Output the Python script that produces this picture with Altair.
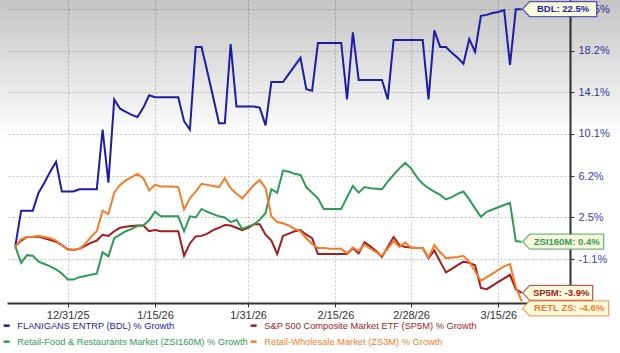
import altair as alt
import pandas as pd

# ---------------- data ----------------
start_date = "2025-12-22"
n_days = 88

series_names = [
    "FLANIGANS ENTRP (BDL) % Growth",
    "S&P 500 Composite Market ETF (SP5M) % Growth",
    "Retail-Food & Restaurants Market (ZSI160M) % Growth",
    "Retail-Wholesale Market (ZS3M) % Growth",
]
short_names = ["BDL", "SP5M", "ZSI160M", "RETL ZS"]

bdl_growth = [
    0.0, 3.1, 3.1, 3.1, 4.7, 5.6, 6.6, 7.5, 4.8, 4.8,
    4.8, 5.0, 5.0, 5.0, 5.0, 10.5, 5.6, 13.4, 12.5, 12.2,
    11.9, 11.7, 12.6, 13.8, 13.6, 13.6, 13.6, 13.6, 13.6, 11.3,
    10.5, 18.6, 18.6, 16.1, 13.6, 11.1, 11.1, 18.9, 12.7, 12.7,
    12.7, 12.7, 12.6, 10.9, 15.1, 15.1, 15.1, 15.9, 16.7, 17.5,
    14.4, 14.25, 19.0, 19.0, 19.0, 19.0, 19.0, 13.4, 20.1, 15.3,
    15.3, 15.3, 15.3, 15.3, 13.4, 19.3, 19.3, 19.3, 19.3, 19.3,
    19.3, 13.4, 20.3, 18.6, 18.6, 18.0, 17.5, 16.9, 19.4, 18.1,
    21.8, 21.9, 22.1, 22.2, 22.4, 16.8, 22.5, 22.5,
]
sp5m_growth = [
    0.0, 0.5, 0.8, 0.8, 0.85, 0.7, 0.55, 0.4, 0.1, -0.25,
    -0.3, -0.2, 0.05, 0.3, 0.5, 1.0, 0.9, 1.3, 1.6, 1.7,
    1.75, 1.8, 1.8, 1.3, 1.4, 1.3, 1.3, 1.3, 1.3, -0.8,
    0.25, 0.85, 0.9, 1.1, 1.4, 1.6, 1.85, 1.8, 1.6, 1.4,
    1.6, 1.9, 1.9, 1.0, 0.5, -0.65, 0.9, 1.1, 1.3, 1.4,
    1.0, 0.7, -0.65, -0.65, -0.65, -0.65, -0.65, -0.65, -0.15, -0.6,
    0.35, 0.0, -0.4, -0.9, -0.05, 0.8, 0.1, -0.05, -0.1, -0.15,
    -0.15, -1.0, -0.35, -1.3, -2.2, -1.9, -1.6, -1.3, -1.4, -1.6,
    -3.5, -3.6, -3.3, -3.0, -2.7, -2.4, -3.6, -3.9,
]
zsi160m_growth = [
    0.0, -1.4, -0.75, -0.8, -1.3, -1.5, -1.7, -1.95, -2.3, -2.8,
    -2.8, -2.6, -2.5, -2.4, -2.3, -0.5, -0.85, 0.7, 1.0, 1.3,
    1.5, 1.75, 1.8, 2.25, 3.0, 2.6, 2.6, 2.6, 2.6, 1.3,
    2.6, 2.5, 3.25, 3.0, 2.8, 2.6, 2.5, 2.1, 2.3, 1.5,
    1.7, 1.9, 2.3, 2.9, 5.0, 4.7, 6.7, 6.6, 6.4, 6.3,
    5.2, 4.7, 4.2, 3.25, 3.25, 3.25, 3.25, 4.3, 5.3, 4.7,
    5.2, 5.1, 5.05, 5.0, 5.7, 6.3, 6.9, 7.4, 6.9, 6.1,
    5.5, 5.1, 4.8, 4.5, 4.1, 4.3, 4.6, 4.8, 4.1, 3.3,
    2.55, 3.0, 3.2, 3.4, 3.6, 3.8, 0.45, 0.4,
]
zs3m_growth = [
    0.0, 0.6, 0.8, 0.8, 0.9, 0.8, 0.7, 0.5, 0.1, -0.3,
    -0.3, -0.2, 0.2, 0.8, 1.3, 3.1, 2.8, 4.7, 5.4, 5.8,
    6.1, 6.4, 6.0, 4.9, 5.4, 5.25, 5.25, 5.25, 5.2, 3.2,
    4.2, 4.8, 5.5, 5.4, 5.3, 5.2, 6.0, 5.1, 4.6, 4.2,
    4.8, 5.4, 5.85, 5.1, 2.6, 2.1, 2.0, 1.8, 1.5, 1.3,
    0.7, 0.2, -0.15, -0.15, -0.2, -0.2, -0.2, -0.6, -0.1, -0.4,
    0.15, -0.2, -0.5, -0.8, -0.2, 0.45, -0.05, 0.35, -0.15, -0.15,
    -0.15, -0.95, 0.1, -0.5, -1.0, -0.95, -0.9, -0.8, -1.3, -2.1,
    -2.9, -2.6, -2.3, -2.0, -1.7, -1.5, -3.4, -4.6,
]

y_tick_labels = [22.5, 18.2, 14.1, 10.1, 6.2, 2.5, -1.1]
x_tick_dates = ["2025-12-31", "2026-01-15", "2026-01-31", "2026-02-15", "2026-02-28", "2026-03-15"]

# ---------------- styles ----------------
line_colors = ["#1c1ca8", "#a31d1d", "#2f9b55", "#f97b28"]
box_widths = [74, 70, 81, 86]
box_shift = [0, 0, 0, 7]
FONT = "Liberation Sans"
W, H = 563, 303

# ---------------- build tables ----------------
dates = list(pd.date_range(start_date, periods=n_days, freq="D").strftime("%Y-%m-%d"))
all_values = [bdl_growth, sp5m_growth, zsi160m_growth, zs3m_growth]
rows = []
for name, vals in zip(series_names, all_values):
    for d, v in zip(dates, vals):
        rows.append({"date": d, "series": name, "pct": v, "index": 100 + v})
df = pd.DataFrame(rows)

label_df = pd.DataFrame({
    "series": series_names,
    "date": [dates[-1]] * 4,
    "index": [100 + v[-1] for v in all_values],
    "text": [f"{s}: {v[-1]:.1f}%" for s, v in zip(short_names, all_values)],
})


def dtobj(t):
    return alt.DateTime(year=t.year, month=t.month, date=t.day,
                        hours=t.hour, minutes=t.minute, utc=True)


t0 = pd.Timestamp(start_date)
x_lo = t0 - pd.Timedelta(days=1.426)
x_hi = t0 + pd.Timedelta(days=95.31)

x_enc = alt.X(
    "date:T",
    scale=alt.Scale(type="utc", domain=[dtobj(x_lo), dtobj(x_hi)]),
    axis=alt.Axis(
        orient="bottom", offset=0,
        values=[dtobj(pd.Timestamp(d)) for d in x_tick_dates],
        format="%-m/%-d/%y", title=None,
        grid=True, gridColor="#c4c4c4", gridDash=[2, 2], gridWidth=1,
        domainColor="#333333", domainWidth=2,
        tickColor="#333333", tickSize=4, tickWidth=1,
        labelFont=FONT, labelFontSize=11, labelColor="#333333",
        labelBaseline="top", labelPadding=2, labelOverlap=False, labelFlush=False,
    ),
)
y_enc = alt.Y(
    "index:Q",
    scale=alt.Scale(type="log", domain=[95.27, 123.46], nice=False, zero=False),
    axis=alt.Axis(
        orient="right",
        values=[100 + v for v in y_tick_labels],
        labelExpr="round((datum.value - 100) * 10) / 10 + '%'",
        title=None,
        grid=True, gridColor="#c4c4c4", gridDash=[2, 2], gridWidth=1,
        domainColor="#333333", domainWidth=2,
        tickColor="#333333", tickSize=4, tickWidth=1,
        labelFont=FONT, labelFontSize=11, labelColor="#3b3bb3",
        labelPadding=4, labelOverlap=False, labelFlush=False,
    ),
)

color_enc = alt.Color(
    "series:N",
    scale=alt.Scale(domain=series_names, range=line_colors),
    legend=alt.Legend(
        title=None, orient="none", legendX=-5, legendY=321,
        columns=2, direction="horizontal",
        symbolType="stroke", symbolSize=36, symbolStrokeWidth=2.5,
        labelFont=FONT, labelFontSize=9.3,
        labelColor={"expr": "scale('color', datum.value)"},
        columnPadding=-3, rowPadding=5, labelOffset=6, padding=0,
        labelLimit=0,
    ),
)

bg = alt.Chart(pd.DataFrame({"k": [0]})).mark_rect(
    fill=alt.Gradient(
        gradient="linear",
        stops=[
            alt.GradientStop(color="rgba(0,0,0,0.23)", offset=0),
            alt.GradientStop(color="rgba(0,0,0,0)", offset=0.46),
            alt.GradientStop(color="rgba(0,0,0,0)", offset=1),
        ],
        x1=0, x2=0, y1=0, y2=1,
    ),
).encode(x=alt.value(-7), x2=alt.value(W + 50), y=alt.value(0), y2=alt.value(H))

lines = alt.Chart(df).mark_line(strokeWidth=2).encode(
    x=x_enc, y=y_enc, color=color_enc
)

layers = [bg, lines]
for i in range(4):
    wb = box_widths[i] / 100.0
    path = f"M0,0L0.07,-0.075L{wb:.3f},-0.075L{wb:.3f},0.075L0.07,0.075Z"
    sub = label_df.iloc[[i]]
    box = alt.Chart(sub).mark_point(
        shape=path, size=40000, filled=True, fill="#fafadc",
        stroke=line_colors[i], strokeOpacity=0.7, strokeWidth=1.3, opacity=1,
        xOffset=1, yOffset=box_shift[i],
    ).encode(x=x_enc, y=y_enc)
    txt = alt.Chart(sub).mark_text(
        align="center", baseline="middle", font=FONT, fontSize=9.5,
        fontWeight="bold", color=line_colors[i],
        dx=1 + (7 + box_widths[i]) / 2, dy=box_shift[i],
    ).encode(x=x_enc, y=y_enc, text="text:N")
    layers += [box, txt]

chart = alt.layer(*layers).properties(
    width=W, height=H,
    padding={"left": 7, "top": 0, "right": 50, "bottom": 50},
    autosize=alt.AutoSizeParams(type="none"),
    background="white",
).configure_view(stroke=None)

chart.save("out.html", embed_options={"renderer": "svg", "actions": False})
